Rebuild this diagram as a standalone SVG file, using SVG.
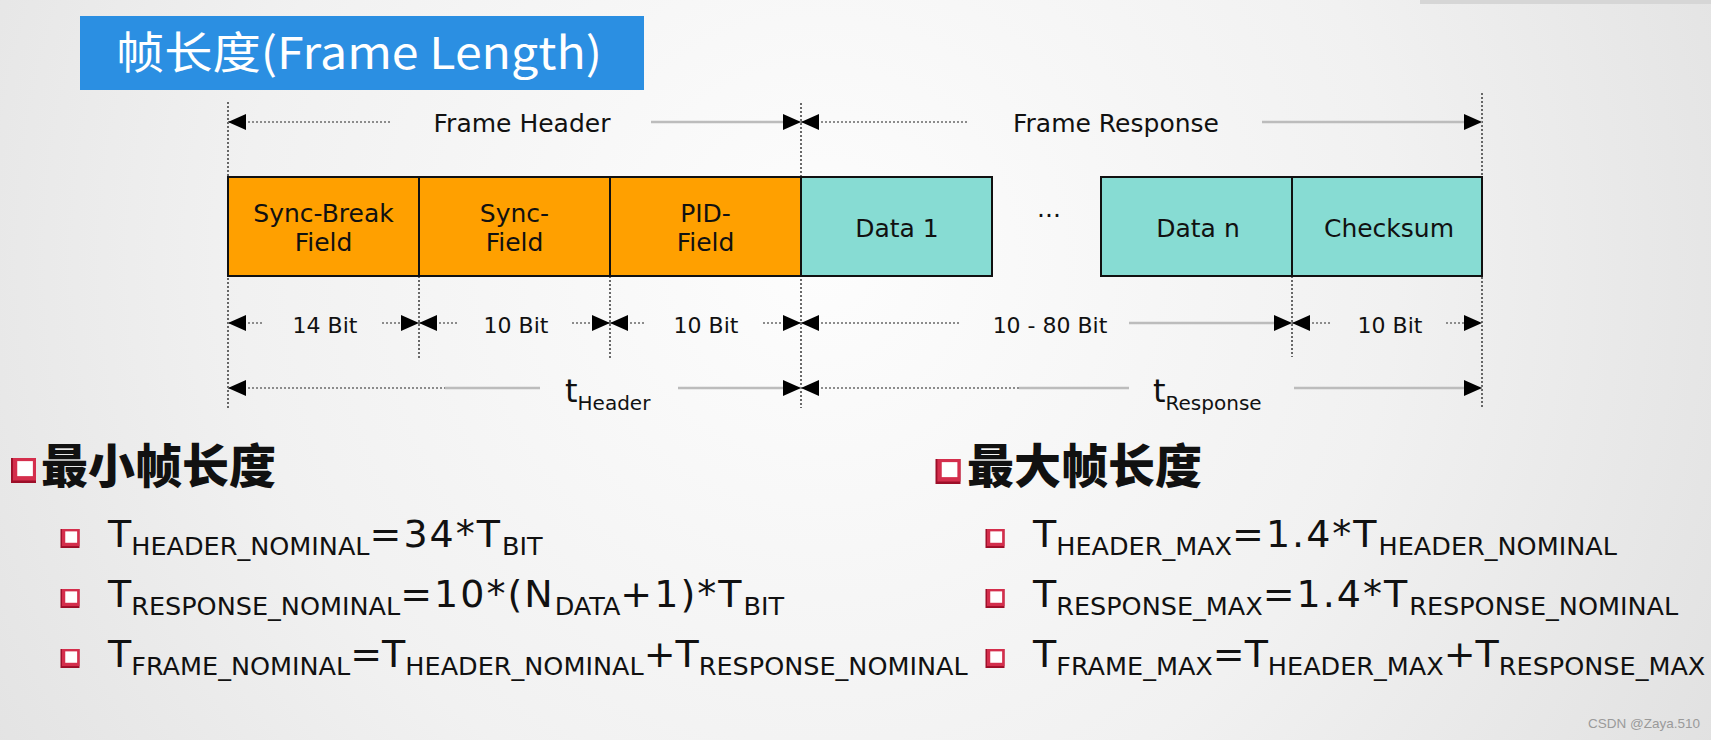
<svg xmlns="http://www.w3.org/2000/svg" width="1711" height="740" viewBox="0 0 1711 740">
<defs>
<radialGradient id="bg" cx="820" cy="260" r="1050" gradientUnits="userSpaceOnUse">
<stop offset="0" stop-color="#fdfdfd"/><stop offset="0.55" stop-color="#f1f1f1"/><stop offset="1" stop-color="#e0e0e0"/>
</radialGradient>
<marker id="ah" viewBox="0 0 18 16" refX="18" refY="8" markerWidth="18" markerHeight="16" markerUnits="userSpaceOnUse" orient="auto-start-reverse">
<path d="M0,0 L18,8 L0,16 z" fill="#000"/>
</marker>
<symbol id="chk" viewBox="0 0 20 20">
<rect x="0" y="0" width="20" height="20" fill="#9c0e28"/>
<rect x="1.5" y="0" width="18.5" height="18" fill="#d42e4c"/>
<rect x="5" y="2.5" width="12.5" height="12" fill="#ffffff"/>
</symbol>
<style>
.lbl{font-family:"DejaVu Sans",Verdana,sans-serif;font-size:25px;fill:#111;text-anchor:middle}
.bit{font-size:22px}
.dot{stroke:#8c8c8c;stroke-width:2;stroke-dasharray:2 2;fill:none}
.sol{stroke:#bcbcbc;stroke-width:2.5;fill:none}
.vl{stroke:#3a3a3a;stroke-width:1.5;stroke-dasharray:2 2;fill:none}
.org{fill:#ffa000;stroke:#111;stroke-width:2}
.tea{fill:#87dcd3;stroke:#111;stroke-width:2}
.f{font-family:"DejaVu Sans",Verdana,sans-serif;font-size:38px;fill:#111}
.s{font-size:25.5px}
.w{letter-spacing:2px}
.h{font-family:"Noto Sans CJK SC","Noto Sans CJK JP",sans-serif;font-weight:900;font-size:47px;fill:#111}
.tt{font-family:"DejaVu Sans",Verdana,sans-serif;font-size:32px;fill:#111}
.ts{font-size:20px}
</style>
</defs>

<rect x="0" y="0" width="1711" height="740" fill="url(#bg)"/>
<rect x="1420" y="0" width="291" height="4" fill="#d6d6d6"/>

<g id="title">
<rect x="80" y="16" width="564" height="74" fill="#2b8fe2"/>
<text x="116" y="69" font-family="'Noto Sans CJK SC','Noto Sans CJK JP',sans-serif" font-size="44" fill="#ffffff" textLength="486" lengthAdjust="spacingAndGlyphs">帧长度(Frame Length)</text>
</g>

<g id="guides">
<line class="vl" x1="228" y1="102" x2="228" y2="408"/>
<line class="vl" x1="419" y1="276" x2="419" y2="360"/>
<line class="vl" x1="610" y1="276" x2="610" y2="360"/>
<line class="vl" x1="801" y1="103" x2="801" y2="408"/>
<line class="vl" x1="1292" y1="276" x2="1292" y2="357"/>
<line class="vl" x1="1482" y1="93" x2="1482" y2="407"/>
</g>

<g id="sync-break">
<rect class="org" x="228" y="177" width="191" height="99"/>
<text class="lbl" x="323.5" y="222">Sync-Break</text>
<text class="lbl" x="323.5" y="251">Field</text>
</g>
<g id="sync">
<rect class="org" x="419" y="177" width="191" height="99"/>
<text class="lbl" x="514.5" y="222">Sync-</text>
<text class="lbl" x="514.5" y="251">Field</text>
</g>
<g id="pid">
<rect class="org" x="610" y="177" width="191" height="99"/>
<text class="lbl" x="705.5" y="222">PID-</text>
<text class="lbl" x="705.5" y="251">Field</text>
</g>
<g id="data1">
<rect class="tea" x="801" y="177" width="191" height="99"/>
<text class="lbl" x="897" y="237">Data 1</text>
</g>
<g id="ellipsis">
<text class="lbl" x="1049" y="217">...</text>
</g>
<g id="datan">
<rect class="tea" x="1101" y="177" width="191" height="99"/>
<text class="lbl" x="1198" y="237">Data n</text>
</g>
<g id="checksum">
<rect class="tea" x="1292" y="177" width="190" height="99"/>
<text class="lbl" x="1389" y="237">Checksum</text>
</g>

<g id="connectors">
<line class="dot" x1="228" y1="122" x2="390" y2="122" marker-start="url(#ah)"/>
<line class="sol" x1="651" y1="122" x2="801" y2="122" marker-end="url(#ah)"/>
<line class="dot" x1="801" y1="122" x2="968" y2="122" marker-start="url(#ah)"/>
<line class="sol" x1="1262" y1="122" x2="1482" y2="122" marker-end="url(#ah)"/>

<line class="dot" x1="228" y1="323" x2="264" y2="323" marker-start="url(#ah)"/>
<line class="dot" x1="382" y1="323" x2="419" y2="323" marker-end="url(#ah)"/>
<line class="dot" x1="419" y1="323" x2="457" y2="323" marker-start="url(#ah)"/>
<line class="dot" x1="572" y1="323" x2="610" y2="323" marker-end="url(#ah)"/>
<line class="dot" x1="610" y1="323" x2="646" y2="323" marker-start="url(#ah)"/>
<line class="dot" x1="763" y1="323" x2="801" y2="323" marker-end="url(#ah)"/>
<line class="dot" x1="801" y1="323" x2="961" y2="323" marker-start="url(#ah)"/>
<line class="sol" x1="1129" y1="323" x2="1292" y2="323" marker-end="url(#ah)"/>
<line class="dot" x1="1292" y1="323" x2="1330" y2="323" marker-start="url(#ah)"/>
<line class="dot" x1="1446" y1="323" x2="1482" y2="323" marker-end="url(#ah)"/>

<line class="dot" x1="228" y1="388" x2="445" y2="388" marker-start="url(#ah)"/>
<line class="sol" x1="445" y1="388" x2="540" y2="388"/>
<line class="sol" x1="678" y1="388" x2="801" y2="388" marker-end="url(#ah)"/>
<line class="dot" x1="801" y1="388" x2="1019" y2="388" marker-start="url(#ah)"/>
<line class="sol" x1="1019" y1="388" x2="1129" y2="388"/>
<line class="sol" x1="1294" y1="388" x2="1482" y2="388" marker-end="url(#ah)"/>
</g>

<g id="dimension-labels">
<text class="lbl" x="522" y="132">Frame Header</text>
<text class="lbl" x="1116" y="132">Frame Response</text>
<text class="lbl bit" x="325" y="333">14 Bit</text>
<text class="lbl bit" x="516" y="333">10 Bit</text>
<text class="lbl bit" x="706" y="333">10 Bit</text>
<text class="lbl bit" x="1050" y="333">10 - 80 Bit</text>
<text class="lbl bit" x="1390" y="333">10 Bit</text>
<text class="tt" x="565" y="402">t<tspan class="ts" dy="8">Header</tspan></text>
<text class="tt" x="1153" y="402">t<tspan class="ts" dy="8">Response</tspan></text>
</g>

<g id="min-length">
<use href="#chk" x="11" y="458" width="25" height="25"/>
<text class="h" x="41" y="483">最小帧长度</text>
<use href="#chk" x="60" y="529" width="20" height="19"/>
<use href="#chk" x="60" y="589" width="20" height="19"/>
<use href="#chk" x="60" y="649" width="20" height="19"/>
<text class="f" x="108" y="547">T<tspan class="s" dy="8">HEADER_NOMINAL</tspan><tspan class="w" dy="-8">=34*T</tspan><tspan class="s" dy="8">BIT</tspan></text>
<text class="f" x="108" y="607">T<tspan class="s" dy="8">RESPONSE_NOMINAL</tspan><tspan class="w" dy="-8">=10*(N</tspan><tspan class="s" dy="8">DATA</tspan><tspan class="w" dy="-8">+1)*T</tspan><tspan class="s" dy="8">BIT</tspan></text>
<text class="f" x="108" y="667">T<tspan class="s" dy="8">FRAME_NOMINAL</tspan><tspan dy="-8">=T</tspan><tspan class="s" dy="8">HEADER_NOMINAL</tspan><tspan dy="-8">+T</tspan><tspan class="s" dy="8">RESPONSE_NOMINAL</tspan></text>
</g>

<g id="max-length">
<use href="#chk" x="935" y="459" width="26" height="25"/>
<text class="h" x="967" y="483">最大帧长度</text>
<use href="#chk" x="985" y="529" width="20" height="19"/>
<use href="#chk" x="985" y="589" width="20" height="19"/>
<use href="#chk" x="985" y="649" width="20" height="19"/>
<text class="f" x="1033" y="547">T<tspan class="s" dy="8">HEADER_MAX</tspan><tspan class="w" dy="-8">=1.4*T</tspan><tspan class="s" dy="8">HEADER_NOMINAL</tspan></text>
<text class="f" x="1033" y="607">T<tspan class="s" dy="8">RESPONSE_MAX</tspan><tspan class="w" dy="-8">=1.4*T</tspan><tspan class="s" dy="8">RESPONSE_NOMINAL</tspan></text>
<text class="f" x="1033" y="667">T<tspan class="s" dy="8">FRAME_MAX</tspan><tspan dy="-8">=T</tspan><tspan class="s" dy="8">HEADER_MAX</tspan><tspan dy="-8">+T</tspan><tspan class="s" dy="8">RESPONSE_MAX</tspan></text>
</g>

<g id="watermark">
<text x="1588" y="728" font-family="'Liberation Sans',Arial,sans-serif" font-size="13.5" fill="#9a9a9a">CSDN @Zaya.510</text>
</g>
</svg>
